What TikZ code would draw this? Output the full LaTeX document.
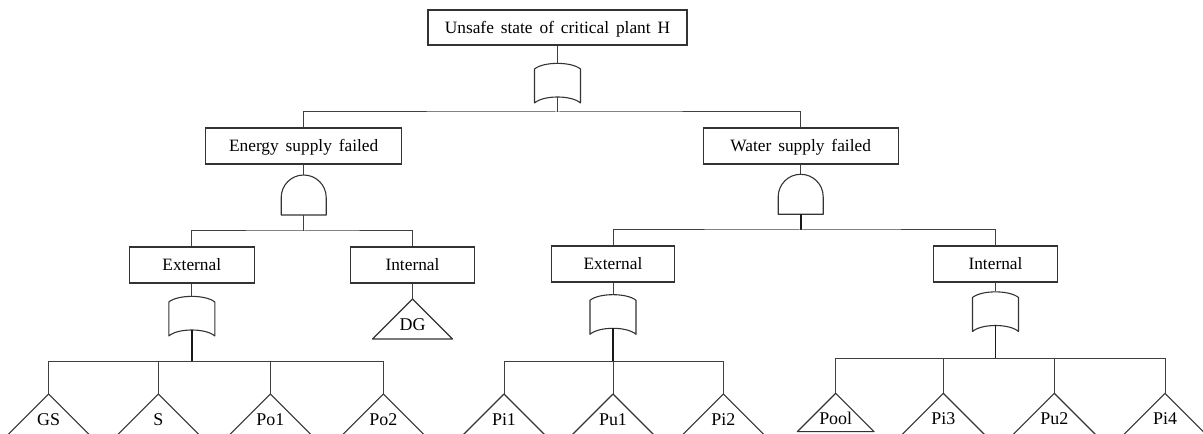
\documentclass[tikz,border=0pt]{standalone}
\usepackage{fontspec}
\setmainfont{Liberation Serif}[WordSpace=1.6]
\newcommand{\orgt}[3]{% name, x, apex y
  \coordinate (#1-in) at (#2,#3);
  \coordinate (#1-out) at (#2,#3+34);
  \draw[gate] (#2-23,#3+40) -- (#2-23,#3+6) .. controls (#2-14,#3-1.5) and (#2+14,#3-1.5) .. (#2+23,#3+6) -- (#2+23,#3+40) .. controls (#2+14,#3+32) and (#2-14,#3+32) .. cycle;
}
\newcommand{\andgt}[3]{% name, x, apex y
  \coordinate (#1-in) at (#2,#3);
  \coordinate (#1-out) at (#2,#3+40);
  \draw[gate] (#2-22.5,#3+40) -- (#2-22.5,#3+22.5) .. controls (#2-22.5,#3+10.07) and (#2-12.43,#3) .. (#2,#3) .. controls (#2+12.43,#3) and (#2+22.5,#3+10.07) .. (#2+22.5,#3+22.5) -- (#2+22.5,#3+40) -- cycle;
}
\newcommand{\leafev}[5]{% name, x, apex y, base y, text
  \coordinate (#1-in) at (#2,#3);
  \draw[gate] (#2,#3) -- (#2+#4-#3,#4) -- (#2-#4+#3,#4) -- cycle;
  \node[leaftext] (#1) at (#2,#3+31.5) {#5};
}
\begin{document}
\begin{tikzpicture}[x=1bp,y=-1bp,
  box/.style={draw=black!80, line width=1.1bp, minimum height=36bp, inner sep=0pt,
    font=\fontsize{17.4}{20}\selectfont, text height=11.5bp, text depth=0pt},
  wire/.style={draw=black!75, line width=1bp},
  gate/.style={draw=black!80, line width=1.1bp, line join=round},
  stem/.style={draw=black!90, line width=1.7bp},
  leaftext/.style={font=\fontsize{18}{20}\selectfont, anchor=base, inner sep=0pt},
]
\useasboundingbox (0,0) rectangle (1203,434);
\clip (0,0) rectangle (1203,434);

% boxes
\node[box, minimum width=259bp, minimum height=35bp] (top) at (557.5,27.5) {Unsafe state of critical plant H};
\node[box, minimum width=196bp] (energy) at (303.7,146) {Energy supply failed};
\node[box, minimum width=195bp] (water) at (800.7,146) {Water supply failed};
\node[box, minimum width=124.5bp] (eext) at (191.8,265) {External};
\node[box, minimum width=124bp] (eint) at (412.5,265) {Internal};
\node[box, minimum width=123bp] (wext) at (613,264) {External};
\node[box, minimum width=124bp] (wint) at (995.5,264) {Internal};

% gates
\orgt{g0}{557.5}{63}
\andgt{ge}{303.7}{175}
\andgt{gw}{800.7}{174.3}
\orgt{gee}{191.8}{296}
\orgt{gwe}{613}{294.3}
\orgt{gwi}{995.5}{291.5}

% basic events
\leafev{gs}{48.7}{394}{436}{GS}
\leafev{s}{158.3}{394}{436}{S}
\leafev{po1}{270.3}{394}{436}{Po1}
\leafev{po2}{383.3}{394}{436}{Po2}
\leafev{dg}{412.5}{299}{339}{DG}
\leafev{pi1}{504}{394}{436}{Pi1}
\leafev{pu1}{613}{394}{436}{Pu1}
\leafev{pi2}{723.3}{394}{436}{Pi2}
\leafev{pool}{835.7}{393.3}{431.7}{Pool}
\leafev{pi3}{943.3}{393.3}{436}{Pi3}
\leafev{pu2}{1054.3}{393.3}{436}{Pu2}
\leafev{pi4}{1165}{393.3}{436}{Pi4}

% bus coordinates
\coordinate (b0) at (557.5,112);
\coordinate (be) at (303.7,231);
\coordinate (bw) at (800.7,230);
\coordinate (bee) at (191.8,362);
\coordinate (bwe) at (613,362);
\coordinate (bwi) at (995.5,359);

% connectors
\draw[wire] (top.south) -- (g0-in);
\draw[wire] (g0-out) -- (b0);
\draw[wire] (energy.north) |- (b0) -| (water.north);

\draw[wire] (energy.south) -- (ge-in);
\draw[wire] (ge-out) -- (be);
\draw[wire] (eext.north) |- (be) -| (eint.north);

\draw[wire] (water.south) -- (gw-in);
\draw[stem] (gw-out) -- (bw);
\draw[wire] (wext.north) |- (bw) -| (wint.north);

\draw[wire] (eext.south) -- (gee-in);
\draw[wire] (eint.south) -- (dg-in);
\draw[stem] (gee-out) -- (bee);
\draw[wire] (gs-in) -- (gs-in |- bee) -- (po2-in |- bee) -- (po2-in);
\draw[wire] (s-in) -- (s-in |- bee);
\draw[wire] (po1-in) -- (po1-in |- bee);

\draw[wire] (wext.south) -- (gwe-in);
\draw[stem] (gwe-out) -- (bwe);
\draw[wire] (pi1-in) -- (pi1-in |- bwe) -- (pi2-in |- bwe) -- (pi2-in);
\draw[wire] (pu1-in) -- (pu1-in |- bwe);

\draw[wire] (wint.south) -- (gwi-in);
\draw[stem] (gwi-out) -- (bwi);
\draw[wire] (pool-in) -- (pool-in |- bwi) -- (pi4-in |- bwi) -- (pi4-in);
\draw[wire] (pi3-in) -- (pi3-in |- bwi);
\draw[wire] (pu2-in) -- (pu2-in |- bwi);
\end{tikzpicture}
\end{document}
